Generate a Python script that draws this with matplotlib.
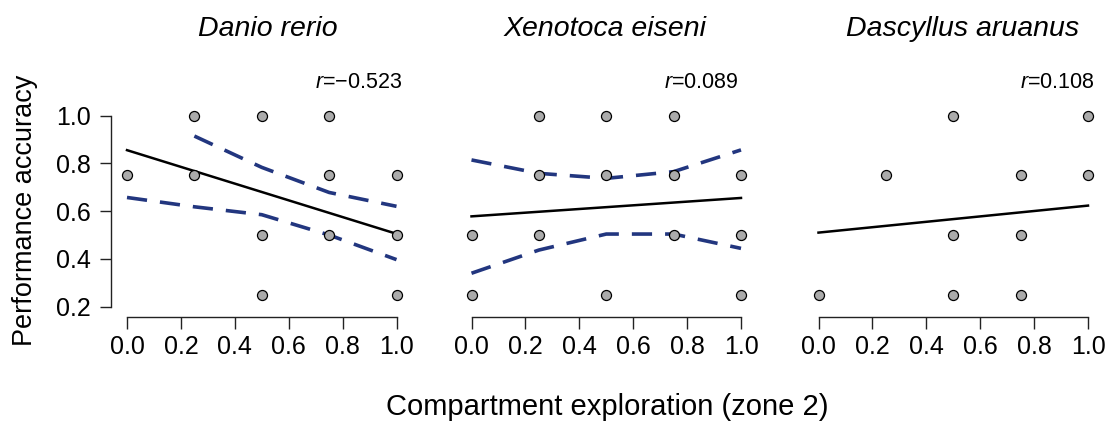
import numpy as np
import matplotlib
matplotlib.use("Agg")
import matplotlib.pyplot as plt

plt.rcParams['font.family'] = ['Liberation Sans', 'DejaVu Sans']
plt.rcParams['mathtext.fontset'] = 'custom'
plt.rcParams['mathtext.rm'] = 'Liberation Sans'
plt.rcParams['mathtext.it'] = 'Liberation Sans:italic'

# species panels
species = ["Danio rerio", "Xenotoca eiseni", "Dascyllus aruanus"]
r_values = ["\u22120.523", "0.089", "0.108"]

# observed points (compartment exploration, performance accuracy)
danio_x = [0.0, 0.25, 0.25, 0.5, 0.5, 0.5, 0.75, 0.75, 0.75, 1.0, 1.0, 1.0]
danio_y = [0.75, 1.0, 0.75, 1.0, 0.5, 0.25, 1.0, 0.75, 0.5, 0.75, 0.5, 0.25]
xeno_x = [0.0, 0.0, 0.25, 0.25, 0.25, 0.5, 0.5, 0.5, 0.75, 0.75, 0.75, 1.0, 1.0, 1.0]
xeno_y = [0.5, 0.25, 1.0, 0.75, 0.5, 1.0, 0.75, 0.25, 1.0, 0.75, 0.5, 0.75, 0.5, 0.25]
dasc_x = [0.0, 0.25, 0.5, 0.5, 0.5, 0.75, 0.75, 0.75, 1.0, 1.0]
dasc_y = [0.25, 0.75, 1.0, 0.5, 0.25, 0.75, 0.5, 0.25, 1.0, 0.75]

# fitted regression lines
fit_x = [0.0, 1.0]
danio_fit = [0.855, 0.505]
xeno_fit = [0.578, 0.655]
dasc_fit = [0.510, 0.623]

# confidence bands (dashed)
danio_up_x = [0.25, 0.5, 0.75, 1.0]
danio_up_y = [0.914, 0.783, 0.678, 0.620]
danio_lo_x = [0.0, 0.25, 0.5, 0.75, 1.0]
danio_lo_y = [0.657, 0.618, 0.585, 0.500, 0.397]
xeno_up_x = [0.0, 0.25, 0.5, 0.75, 1.0]
xeno_up_y = [0.814, 0.758, 0.737, 0.765, 0.856]
xeno_lo_x = [0.0, 0.25, 0.5, 0.75, 1.0]
xeno_lo_y = [0.340, 0.437, 0.504, 0.504, 0.444]

panels = [
    dict(x=danio_x, y=danio_y, fit=danio_fit,
         bands=[(danio_up_x, danio_up_y), (danio_lo_x, danio_lo_y)]),
    dict(x=xeno_x, y=xeno_y, fit=xeno_fit,
         bands=[(xeno_up_x, xeno_up_y), (xeno_lo_x, xeno_lo_y)]),
    dict(x=dasc_x, y=dasc_y, fit=dasc_fit, bands=[]),
]

W, H = 1110, 421
fig = plt.figure(figsize=(W / 100, H / 100), dpi=100)

x0_px = [127.0, 471.5, 818.5]
span = 269.5
xlo, xhi = -0.06, 1.04
ylo, yhi = 0.158, 1.04
ypx_per = 239.0
y1_px = 115.5

# text anchors per panel (axes data x)
title_x = [0.521, 0.495, 0.536]
r_x = [1.02, 0.989, 1.026]

navy = '#22367f'
tick_fs = 18

for i, p in enumerate(panels):
    left = x0_px[i] + xlo * span
    width = (xhi - xlo) * span
    top = y1_px - (yhi - 1.0) * ypx_per
    bottom = y1_px + (1.0 - ylo) * ypx_per
    ax = fig.add_axes([left / W, 1 - bottom / H, width / W, (bottom - top) / H])
    ax.set_xlim(xlo, xhi)
    ax.set_ylim(ylo, yhi)
    for s in ['top', 'right']:
        ax.spines[s].set_visible(False)
    ax.spines['bottom'].set_bounds(0, 1)
    ax.set_xticks(np.arange(0, 1.01, 0.2))
    ax.set_xticklabels(["%.1f" % v for v in np.arange(0, 1.01, 0.2)])
    if i == 0:
        ax.spines['left'].set_bounds(0.2, 1.0)
        ax.set_yticks(np.arange(0.2, 1.01, 0.2))
        ax.set_yticklabels(["%.1f" % v for v in np.arange(0.2, 1.01, 0.2)])
    else:
        ax.spines['left'].set_visible(False)
        ax.set_yticks([])
    for s in ['left', 'bottom']:
        ax.spines[s].set_linewidth(1.0)
        ax.spines[s].set_color('#222222')
    ax.tick_params(axis='x', length=8.5, width=1.0, color='#222222', pad=5,
                   labelsize=tick_fs)
    ax.tick_params(axis='y', length=8, width=1.0, color='#222222', pad=6.5,
                   labelsize=tick_fs)
    ax.patch.set_alpha(0)

    for bx, by in p['bands']:
        ax.plot(bx, by, color=navy, lw=2.6, linestyle=(0, (5.6, 3.6)),
                solid_capstyle='butt', dash_capstyle='butt', zorder=2)
    ax.plot(fit_x, p['fit'], color='black', lw=1.8, zorder=3)
    ax.scatter(p['x'], p['y'], s=52, facecolor='#ababab', edgecolor='black',
               linewidths=0.9, zorder=4, clip_on=False)

    ax.text(r_x[i], 1.136, r'$\mathit{r}$=' + r_values[i], ha='right', va='center',
            fontsize=15.5, clip_on=False)
    ax.text(title_x[i], 1.36, species[i], ha='center', va='center', fontsize=20.5,
            style='italic', clip_on=False)

fig.text(607 / W, 1 - 407 / H, "Compartment exploration (zone 2)",
         ha='center', va='center', fontsize=21)
fig.text(25 / W, 1 - 210 / H, "Performance accuracy", rotation=90,
         ha='center', va='center', fontsize=19.5)

fig.savefig("out.png", dpi=100)
